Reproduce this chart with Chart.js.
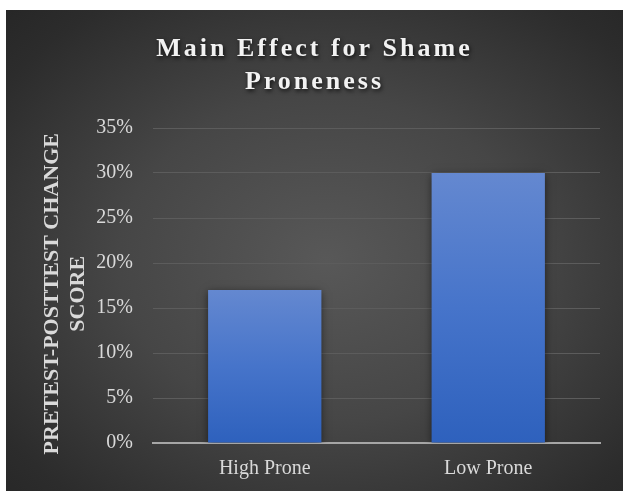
<!DOCTYPE html>
<html>
<head>
<meta charset="utf-8">
<script src="https://cdn.jsdelivr.net/npm/chart.js@4"></script>
<style>
  html, body { margin: 0; padding: 0; background: #ffffff; }
  #wrap {
    position: absolute; left: 6px; top: 10px; width: 617px; height: 481px;
    background: radial-gradient(ellipse 75% 75% at 52% 52%, #585858 0%, #464646 45%, #2c2c2c 85%, #262626 100%);
  }
</style>
</head>
<body>
<div id="wrap"><canvas id="chart"></canvas></div>
<script>
// chart data
var categories = ['High Prone', 'Low Prone'];
var changeScores = [0.17, 0.30];
var titleLines = ['Main Effect for Shame', 'Proneness'];
var yTitleLines = ['PRETEST-POSTTEST CHANGE', 'SCORE'];

var serif = '"Liberation Serif", "Times New Roman", serif';

// title drawn by hand so it can be letter-spaced with a shadow
var titlePlugin = {
  id: 'spacedTitle',
  afterDraw: function (chart) {
    var ctx = chart.ctx;
    ctx.save();
    ctx.font = 'bold 26px ' + serif;
    ctx.letterSpacing = '3px';
    ctx.textAlign = 'center';
    ctx.textBaseline = 'middle';
    ctx.fillStyle = '#f2f2f2';
    ctx.shadowColor = 'rgba(0,0,0,0.8)';
    ctx.shadowBlur = 4;
    ctx.shadowOffsetX = 1;
    ctx.shadowOffsetY = 2;
    for (var i = 0; i < titleLines.length; i++) {
      ctx.fillText(titleLines[i], chart.width / 2, 39 + i * 33);
    }
    ctx.restore();
  }
};

var shadowPlugin = {
  id: 'barShadow',
  beforeDatasetsDraw: function (chart) {
    var ctx = chart.ctx;
    ctx.save();
    ctx.shadowColor = 'rgba(0,0,0,0.55)';
    ctx.shadowBlur = 8;
    ctx.shadowOffsetX = 0;
    ctx.shadowOffsetY = 2;
  },
  afterDatasetsDraw: function (chart) {
    chart.ctx.restore();
  }
};

function barGradient(context) {
  var chart = context.chart;
  if (!chart.chartArea) return '#4472c4';
  var y = chart.scales.y;
  var v = context.raw;
  var top = y.getPixelForValue(v);
  var bottom = y.getPixelForValue(0);
  var g = chart.ctx.createLinearGradient(0, top, 0, bottom);
  g.addColorStop(0, '#6488d0');
  g.addColorStop(0.5, '#4674ca');
  g.addColorStop(1, '#2e61bd');
  return g;
}

var ctx = document.getElementById('chart').getContext('2d');
var chart = new Chart(ctx, {
  type: 'bar',
  data: {
    labels: categories,
    datasets: [{
      label: 'Change score',
      data: changeScores,
      backgroundColor: barGradient,
      borderWidth: 0,
      categoryPercentage: 1,
      barPercentage: 0.507
    }]
  },
  options: {
    responsive: true,
    maintainAspectRatio: false,
    animation: false,
    layout: { padding: { top: 118, right: 23, left: 0, bottom: 0 } },
    plugins: {
      legend: { display: false },
      tooltip: { enabled: false }
    },
    scales: {
      x: {
        grid: { display: false, drawTicks: false },
        border: { display: true, color: '#a6a6a6', width: 2 },
        ticks: {
          color: '#d9d9d9',
          font: { family: serif, size: 20 },
          padding: 14
        },
        afterFit: function (scale) { scale.height = 48; }
      },
      y: {
        min: 0,
        max: 0.35,
        grid: { color: '#5c5c5c', lineWidth: 1, drawTicks: false },
        border: { display: false },
        ticks: {
          stepSize: 0.05,
          color: '#d9d9d9',
          font: { family: serif, size: 20 },
          padding: 20,
          callback: function (v) { return Math.round(v * 100) + '%'; }
        },
        title: {
          display: true,
          // trailing spaces nudge the rotated title a little lower, as in the original
          text: yTitleLines.map(function (s) { return s + '   '; }),
          color: '#d9d9d9',
          font: { family: serif, size: 22, weight: 'bold', lineHeight: 1.15 },
          padding: { top: 34, bottom: 0 }
        },
        afterFit: function (scale) { scale.width = 147; }
      }
    }
  },
  plugins: [titlePlugin, shadowPlugin]
});
</script>
</body>
</html>
